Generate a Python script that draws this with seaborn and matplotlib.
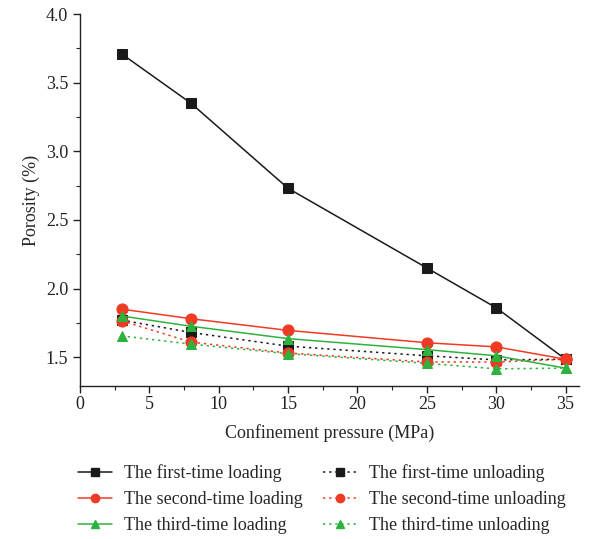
import matplotlib
matplotlib.use("Agg")
import matplotlib.pyplot as plt
import seaborn as sns
import pandas as pd
from matplotlib.ticker import MultipleLocator
from matplotlib.lines import Line2D

pressure = [3, 8, 15, 25, 30, 35]
first_loading = [3.71, 3.35, 2.73, 2.15, 1.86, 1.485]
first_unloading = [1.77, 1.68, 1.58, 1.51, 1.48, 1.485]
second_loading = [1.85, 1.78, 1.695, 1.605, 1.575, 1.485]
second_unloading = [1.765, 1.61, 1.53, 1.465, 1.465, 1.485]
third_loading = [1.80, 1.725, 1.635, 1.555, 1.51, 1.42]
third_unloading = [1.655, 1.595, 1.525, 1.455, 1.415, 1.42]

labels = ["The first-time loading", "The first-time unloading",
          "The second-time loading", "The second-time unloading",
          "The third-time loading", "The third-time unloading"]
series = [first_loading, first_unloading, second_loading, second_unloading,
          third_loading, third_unloading]
colors = ["#1a1a1a", "#1a1a1a", "#f03a24", "#f03a24", "#2db33d", "#2db33d"]
markers = ["s", "s", "o", "o", "^", "^"]
dotted = (0, (1.5, 2.5))
styles = ["-", dotted, "-", dotted, "-", dotted]

sns.set_style("ticks")
plt.rcParams['font.family'] = ['Liberation Serif', 'DejaVu Serif']
plt.rcParams['font.size'] = 13

fig = plt.figure(figsize=(5.91, 5.39), dpi=100)
ax = fig.add_axes([0.1354, 0.2839, 0.845, 0.690])

handles = {}
for lab, vals, c, m, ls in zip(labels, series, colors, markers, styles):
    df = pd.DataFrame({"x": pressure, "y": vals})
    sns.lineplot(data=df, x="x", y="y", ax=ax, color=c, marker=m, linestyle=ls,
                 markersize=7 if m != "o" else 8, markeredgecolor=c,
                 linewidth=1.1, legend=False)
    handles[lab] = Line2D([], [], color=c, marker=m, linestyle=ls, linewidth=1.1,
                          markersize=6, markeredgecolor=c)

ax.set_xlim(0, 36)
ax.set_ylim(1.29, 4.0)
ax.xaxis.set_major_locator(MultipleLocator(5))
ax.xaxis.set_minor_locator(MultipleLocator(2.5))
ax.yaxis.set_major_locator(MultipleLocator(0.5))
ax.yaxis.set_minor_locator(MultipleLocator(0.25))
ax.tick_params(which="major", direction="out", length=5, width=1, labelsize=13, colors="#222222")
ax.tick_params(axis="x", which="major", pad=2.5)
ax.tick_params(which="minor", direction="out", length=3, width=0.8)
for s in ["top", "right"]:
    ax.spines[s].set_visible(False)
for s in ["left", "bottom"]:
    ax.spines[s].set_linewidth(1.0)
    ax.spines[s].set_color("#222222")
ax.set_xlabel("Confinement pressure (MPa)", fontsize=13, labelpad=8)
ax.set_ylabel("Porosity (%)", fontsize=13)

order = [labels[0], labels[2], labels[4], labels[1], labels[3], labels[5]]
fig.legend([handles[l] for l in order], order, ncol=2, loc="center left",
           bbox_to_anchor=(0.132, 0.074), frameon=False, fontsize=13,
           borderaxespad=0, borderpad=0,
           handlelength=1.9, columnspacing=1.1, labelspacing=0.5, handletextpad=0.65)

fig.savefig("out.png", dpi=100)
